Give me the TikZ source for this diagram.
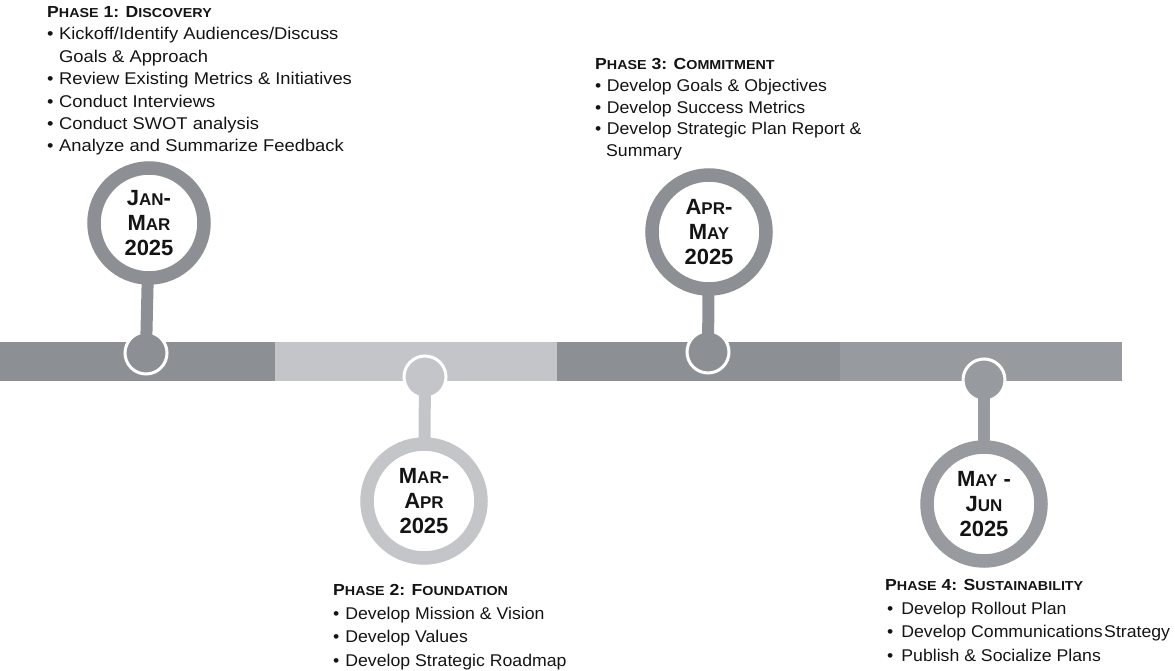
\documentclass[tikz,border=0pt]{standalone}
\usepackage{fontspec}
\setmainfont{Liberation Sans}
\newfontfamily\bodyfont[FakeStretch=1.08]{Liberation Sans}
\newfontfamily\bodyfontn[FakeStretch=1.04]{Liberation Sans}
\newfontfamily\headfont[FakeStretch=1.1]{Liberation Sans}

\definecolor{bardark}{HTML}{8C9094}
\definecolor{barlight}{HTML}{C3C5C9}
\definecolor{barmid}{HTML}{979B9F}
\definecolor{ink}{HTML}{141414}

% small-cap letters for phase headings and date labels
\newcommand\hsc[1]{{\fontsize{13}{13}\selectfont #1}}
\newcommand\dsc[1]{{\fontsize{17}{17}\selectfont #1}}
\newcommand\phasehead[1]{{\headfont\bfseries\fontsize{16}{16}\selectfont #1}}

\tikzset{
  textblock/.style={anchor=base west, inner sep=0pt, text=ink,
    font=\bodyfontn\fontsize{17}{#1}\selectfont},
  widetextblock/.style={anchor=base west, inner sep=0pt, text=ink,
    font=\bodyfont\fontsize{17}{#1}\selectfont},
  ring/.style={circle, draw=#1, line width=13.5pt, fill=white,
    minimum size=114pt, inner sep=0pt, align=center, text=ink,
    font=\bfseries\fontsize{22}{25}\selectfont},
  dot/.style={circle, fill=#1, draw=white, line width=3pt,
    minimum size=42pt, inner sep=0pt},
  stem/.style={line width=12pt, draw=#1},
}

\begin{document}
\begin{tikzpicture}[x=1pt, y=-1pt]
\useasboundingbox (0,0) rectangle (1175,671);

% timeline bar
\fill[bardark]  (0,342)   rectangle (275,381);
\fill[barlight] (275,342) rectangle (557,381);
\fill[bardark]  (557,342) rectangle (840,381);
\fill[barmid]   (840,342) rectangle (1122,381);

% markers on the bar
\node[dot=bardark]  (dot1) at (146,353) {};
\node[dot=barlight] (dot2) at (425,377) {};
\node[dot=bardark]  (dot3) at (708,352) {};
\node[dot=barmid]   (dot4) at (984,380) {};

% date rings
\coordinate (c1) at (149,223);
\coordinate (c2) at (424,501);
\coordinate (c3) at (709,232);
\coordinate (c4) at (984,504);
\draw[stem=bardark]  (dot1.center) -- (c1);
\draw[stem=barlight] (dot2.center) -- (c2);
\draw[stem=bardark]  (dot3.center) -- (c3);
\draw[stem=barmid]   (dot4.center) -- (c4);

\node[ring=bardark, minimum size=110pt] (ring1) at (c1) {J\dsc{AN}-\\M\dsc{AR}\\2025};
\node[ring=barlight] (ring2) at (c2) {M\dsc{AR}-\\A\dsc{PR}\\2025};
\node[ring=bardark]  (ring3) at (c3) {A\dsc{PR}-\\M\dsc{AY}\\2025};
\node[ring=barmid]   (ring4) at (c4) {M\dsc{AY} -\\J\dsc{UN}\\2025};

% phase descriptions
\node[widetextblock=22.4] (phase1) at (47,17.5) {%
\begin{tabular}[t]{@{}l@{\hspace{5.5pt}}l@{}}
\multicolumn{2}{@{}l@{}}{\phasehead{P\hsc{HASE} 1: D\hsc{ISCOVERY}}}\\
\textbullet & Kickoff/Identify Audiences/Discuss\\
            & Goals \& Approach\\
\textbullet & Review Existing Metrics \& Initiatives\\
\textbullet & Conduct Interviews\\
\textbullet & Conduct SWOT analysis\\
\textbullet & Analyze and Summarize Feedback
\end{tabular}};

\node[textblock=21.8] (phase3) at (595,69.5) {%
\begin{tabular}[t]{@{}l@{\hspace{5.5pt}}l@{}}
\multicolumn{2}{@{}l@{}}{\phasehead{P\hsc{HASE} 3: C\hsc{OMMITMENT}}}\\
\textbullet & Develop Goals \& Objectives\\
\textbullet & Develop Success Metrics\\
\textbullet & Develop Strategic Plan Report \&\\
\multicolumn{2}{@{\hspace{11pt}}l@{}}{Summary}
\end{tabular}};

\node[textblock=23.5] (phase2) at (333,595.5) {%
\begin{tabular}[t]{@{}l@{\hspace{6pt}}l@{}}
\multicolumn{2}{@{}l@{}}{\phasehead{P\hsc{HASE} 2: F\hsc{OUNDATION}}}\\
\textbullet & Develop Mission \& Vision\\
\textbullet & Develop Values\\
\textbullet & Develop Strategic Roadmap
\end{tabular}};

\node[textblock=23.5] (phase4) at (885,590.5) {%
\begin{tabular}[t]{@{}l@{\hspace{8pt}}l@{}}
\multicolumn{2}{@{}l@{}}{\phasehead{P\hsc{HASE} 4: S\hsc{USTAINABILITY}}}\\
\hspace{2pt}\textbullet & Develop Rollout Plan\\
\hspace{2pt}\textbullet & Develop Communications\hspace{-3.5pt} Strategy\\
\hspace{2pt}\textbullet & Publish \& Socialize Plans
\end{tabular}};
\end{tikzpicture}
\end{document}
